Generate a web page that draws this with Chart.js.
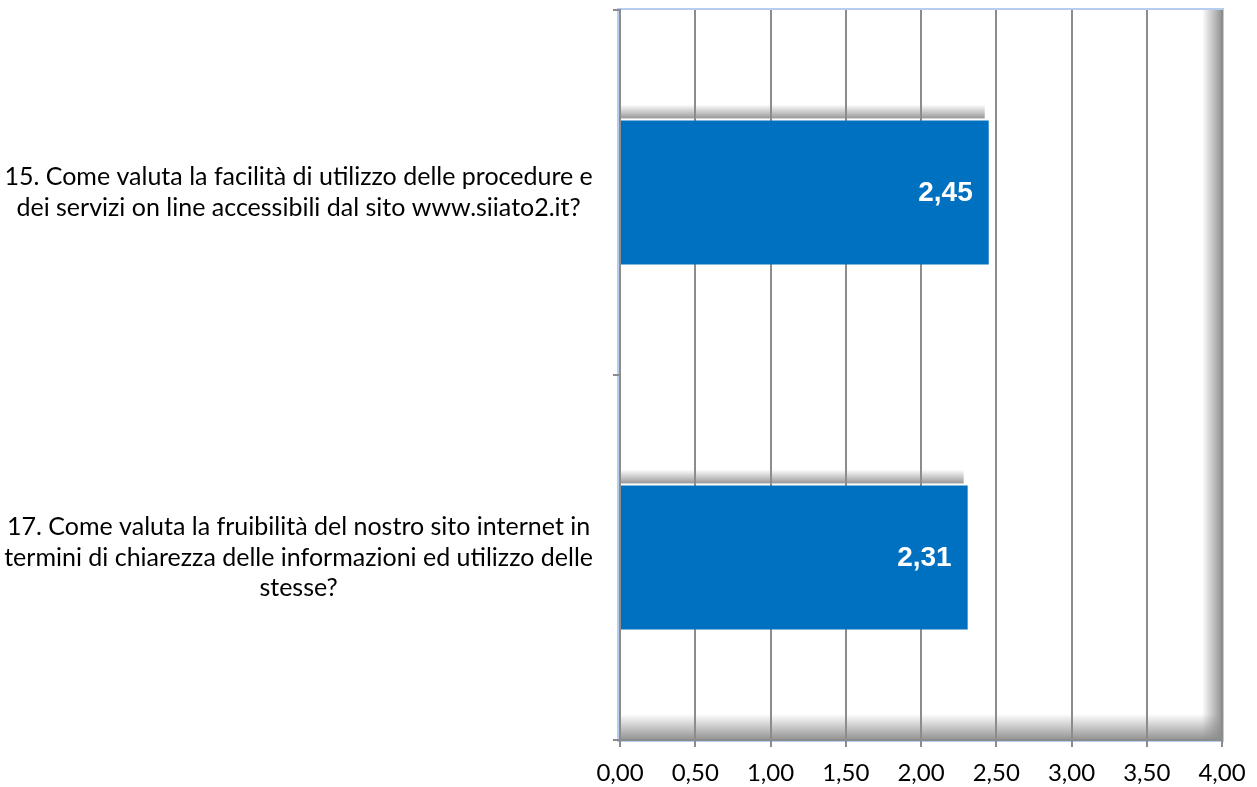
<!DOCTYPE html>
<html>
<head>
<meta charset="utf-8">
<script src="https://cdn.jsdelivr.net/npm/chart.js@4/dist/chart.umd.min.js"></script>
<style>
  body { margin: 0; background: #fff; }
  canvas { display: block; }
</style>
</head>
<body>
<canvas id="chart" width="1257" height="787"></canvas>
<script>
// question labels (multi-line) and average scores
const questions = [
    ["15. Come valuta la facilità di utilizzo delle procedure e", "dei servizi on line accessibili dal sito www.siiato2.it?"],
    ["17. Come valuta la fruibilità del nostro sito internet in", "termini di chiarezza delle informazioni ed utilizzo delle", "stesse?"]
];
const scores = [2.45, 2.31];
const axisMin = 0;
const axisMax = 4;
const axisStep = 0.5;

const fmt = v => Number(v).toFixed(2).replace(".", ",");

// soft inner shadow of the plot area + shadow on top of each bar
const shadowPlugin = {
    id: "shadows",
    beforeDraw(chart) {
        const { ctx, chartArea: a } = chart;
        ctx.save();
        // bottom inner shadow
        let g = ctx.createLinearGradient(0, a.bottom - 26, 0, a.bottom);
        g.addColorStop(0, "rgba(140,140,140,0)");
        g.addColorStop(1, "rgba(140,140,140,0.95)");
        ctx.fillStyle = g;
        ctx.fillRect(a.left, a.bottom - 26, a.right - a.left, 26);
        // right inner shadow
        g = ctx.createLinearGradient(a.right - 20, 0, a.right, 0);
        g.addColorStop(0, "rgba(140,140,140,0)");
        g.addColorStop(1, "rgba(140,140,140,0.95)");
        ctx.fillStyle = g;
        ctx.fillRect(a.right - 20, a.top, 20, a.bottom - a.top);

        // bar shadows above each bar (with a thin white gap)
        const meta = chart.getDatasetMeta(0);
        meta.data.forEach(bar => {
            const top = bar.y - bar.height / 2 - 2;
            const h = 14;
            const sg = ctx.createLinearGradient(0, top - h, 0, top);
            sg.addColorStop(0, "rgba(150,150,150,0)");
            sg.addColorStop(1, "rgba(140,140,140,0.9)");
            ctx.fillStyle = sg;
            ctx.fillRect(bar.base, top - h, bar.x - bar.base - 4, h);
        });

        // light blue plot border
        ctx.strokeStyle = "#b4cdf0";
        ctx.lineWidth = 2;
        ctx.strokeRect(a.left - 2, a.top - 1, a.right - a.left + 3, a.bottom - a.top + 2);
        ctx.restore();
    },
    afterDatasetsDraw(chart) {
        const { ctx } = chart;
        const meta = chart.getDatasetMeta(0);
        ctx.save();
        ctx.font = "bold 28px 'Liberation Sans', Arial, sans-serif";
        ctx.fillStyle = "#ffffff";
        ctx.textAlign = "right";
        ctx.textBaseline = "middle";
        meta.data.forEach((bar, i) => {
            ctx.fillText(fmt(scores[i]), bar.x - 16, bar.y + 1);
        });
        ctx.restore();
    }
};

new Chart(document.getElementById("chart"), {
    type: "bar",
    data: {
        labels: questions,
        datasets: [{
            data: scores,
            backgroundColor: "#0070c0",
            borderWidth: 0,
            categoryPercentage: 1,
            barPercentage: 0.395
        }]
    },
    options: {
        indexAxis: "y",
        responsive: false,
        animation: false,
        layout: { padding: { top: 10, right: 35, left: 0, bottom: 0 } },
        plugins: {
            legend: { display: false },
            tooltip: { enabled: false }
        },
        scales: {
            x: {
                min: axisMin,
                max: axisMax,
                ticks: {
                    stepSize: axisStep,
                    callback: v => fmt(v),
                    color: "#000",
                    padding: 12,
                    font: { family: "Lato", size: 24 }
                },
                grid: {
                    color: "#8c8c8c",
                    lineWidth: 2,
                    tickLength: 7,
                    tickColor: "#8c8c8c"
                },
                border: { color: "#8c8c8c", width: 2 },
                afterFit: s => { s.height = 47; s.paddingLeft = 0; s.paddingRight = 0; }
            },
            y: {
                ticks: {
                    color: "#000",
                    padding: 20,
                    crossAlign: "center",
                    font: { family: "Lato", size: 25, lineHeight: 1.22 }
                },
                grid: {
                    drawOnChartArea: false,
                    tickLength: 7,
                    tickColor: "#8c8c8c",
                    lineWidth: 2
                },
                border: { color: "#8c8c8c", width: 2 },
                afterFit: s => { s.width = 620; s.paddingTop = 0; s.paddingBottom = 0; }
            }
        }
    },
    plugins: [shadowPlugin]
});
</script>
</body>
</html>
